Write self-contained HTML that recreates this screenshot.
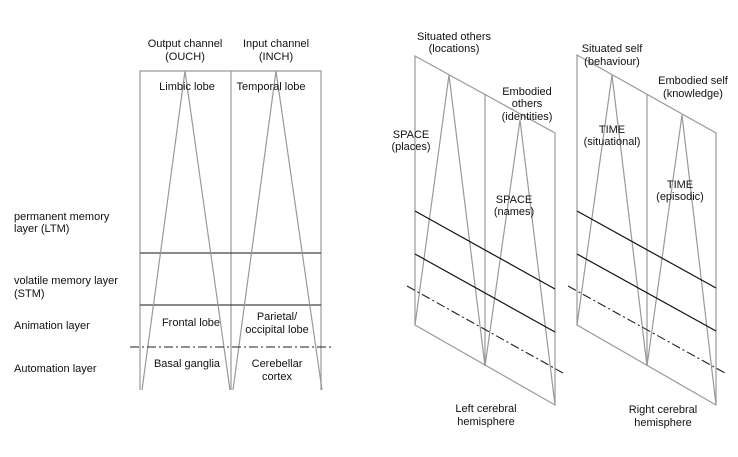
<!DOCTYPE html>
<html><head><meta charset="utf-8"><style>
html,body{margin:0;padding:0;background:#fff;}
svg{display:block}
text{font-family:"Liberation Sans",Arial,sans-serif;font-size:11px;fill:#111;}
.c{text-anchor:middle}
.g{stroke:#999;stroke-width:1.2;fill:none}
.k{stroke:#111;stroke-width:1.2;fill:none}
.d{stroke:#222;stroke-width:1.1;fill:none;stroke-dasharray:9,3,2,3}
</style></head><body>
<svg width="738" height="457" viewBox="0 0 738 457">
<!-- left diagram -->
<polyline class="g" points="140,390 140,71 321,71 321,390"/>
<line class="g" x1="231" y1="71" x2="231" y2="390"/>
<line class="k" style="stroke:#444" x1="140" y1="253" x2="321" y2="253"/>
<line class="k" style="stroke:#444" x1="140" y1="305" x2="321" y2="305"/>
<polyline class="g" points="142,390 185,71 230,390"/>
<polyline class="g" points="233,390 276,71 322,390"/>
<line class="d" x1="130" y1="347" x2="331" y2="347"/>
<text class="c" x="185" y="47">Output  channel</text>
<text class="c" x="185" y="60">(OUCH)</text>
<text class="c" x="276" y="47">Input channel</text>
<text class="c" x="276" y="60">(INCH)</text>
<text class="c" x="187" y="90">Limbic lobe</text>
<text class="c" x="271" y="90">Temporal lobe</text>
<text class="c" x="191" y="326">Frontal  lobe</text>
<text class="c" x="277" y="320">Parietal/</text>
<text class="c" x="277" y="333">occipital  lobe</text>
<text class="c" x="187" y="367">Basal  ganglia</text>
<text class="c" x="277" y="367">Cerebellar</text>
<text class="c" x="277" y="380">cortex</text>
<text x="14" y="220">permanent memory</text>
<text x="14" y="232">layer  (LTM)</text>
<text x="14" y="284">volatile memory layer</text>
<text x="14" y="297">(STM)</text>
<text x="14" y="329">Animation  layer</text>
<text x="14" y="372">Automation  layer</text>

<!-- left hemisphere -->
<polygon class="g" points="415,56 555,133 555,405 415,325"/>
<line class="g" x1="485" y1="94" x2="485" y2="366"/>
<polyline class="g" points="415,325 449,75 485,366"/>
<polyline class="g" points="485,366 520,120 555,405"/>
<line class="k" x1="415" y1="211" x2="555" y2="289"/>
<line class="k" x1="415" y1="254" x2="555" y2="332"/>
<line class="d" x1="407" y1="286" x2="563" y2="373"/>
<text class="c" x="454" y="40">Situated  others</text>
<text class="c" x="454" y="52">(locations)</text>
<text class="c" x="527" y="95">Embodied</text>
<text class="c" x="527" y="107">others</text>
<text class="c" x="527" y="120">(identities)</text>
<text class="c" x="411" y="138">SPACE</text>
<text class="c" x="411" y="150">(places)</text>
<text class="c" x="514" y="203">SPACE</text>
<text class="c" x="514" y="215">(names)</text>
<text class="c" x="486" y="412">Left cerebral</text>
<text class="c" x="486" y="425">hemisphere</text>

<!-- right hemisphere -->
<polygon class="g" points="577,55 716,133 716,405 577,325"/>
<line class="g" x1="647" y1="94" x2="647" y2="366"/>
<polyline class="g" points="577,325 612,75 647,366"/>
<polyline class="g" points="647,366 682,115 716,405"/>
<line class="k" x1="577" y1="211" x2="716" y2="288"/>
<line class="k" x1="577" y1="254" x2="716" y2="331"/>
<line class="d" x1="568" y1="286" x2="725" y2="373"/>
<text class="c" x="612" y="52">Situated self</text>
<text class="c" x="612" y="65">(behaviour)</text>
<text class="c" x="693" y="84">Embodied self</text>
<text class="c" x="693" y="97">(knowledge)</text>
<text class="c" x="612" y="133">TIME</text>
<text class="c" x="612" y="145">(situational)</text>
<text class="c" x="680" y="188">TIME</text>
<text class="c" x="680" y="200">(episodic)</text>
<text class="c" x="663" y="413">Right cerebral</text>
<text class="c" x="663" y="426">hemisphere</text>
</svg>
</body></html>
